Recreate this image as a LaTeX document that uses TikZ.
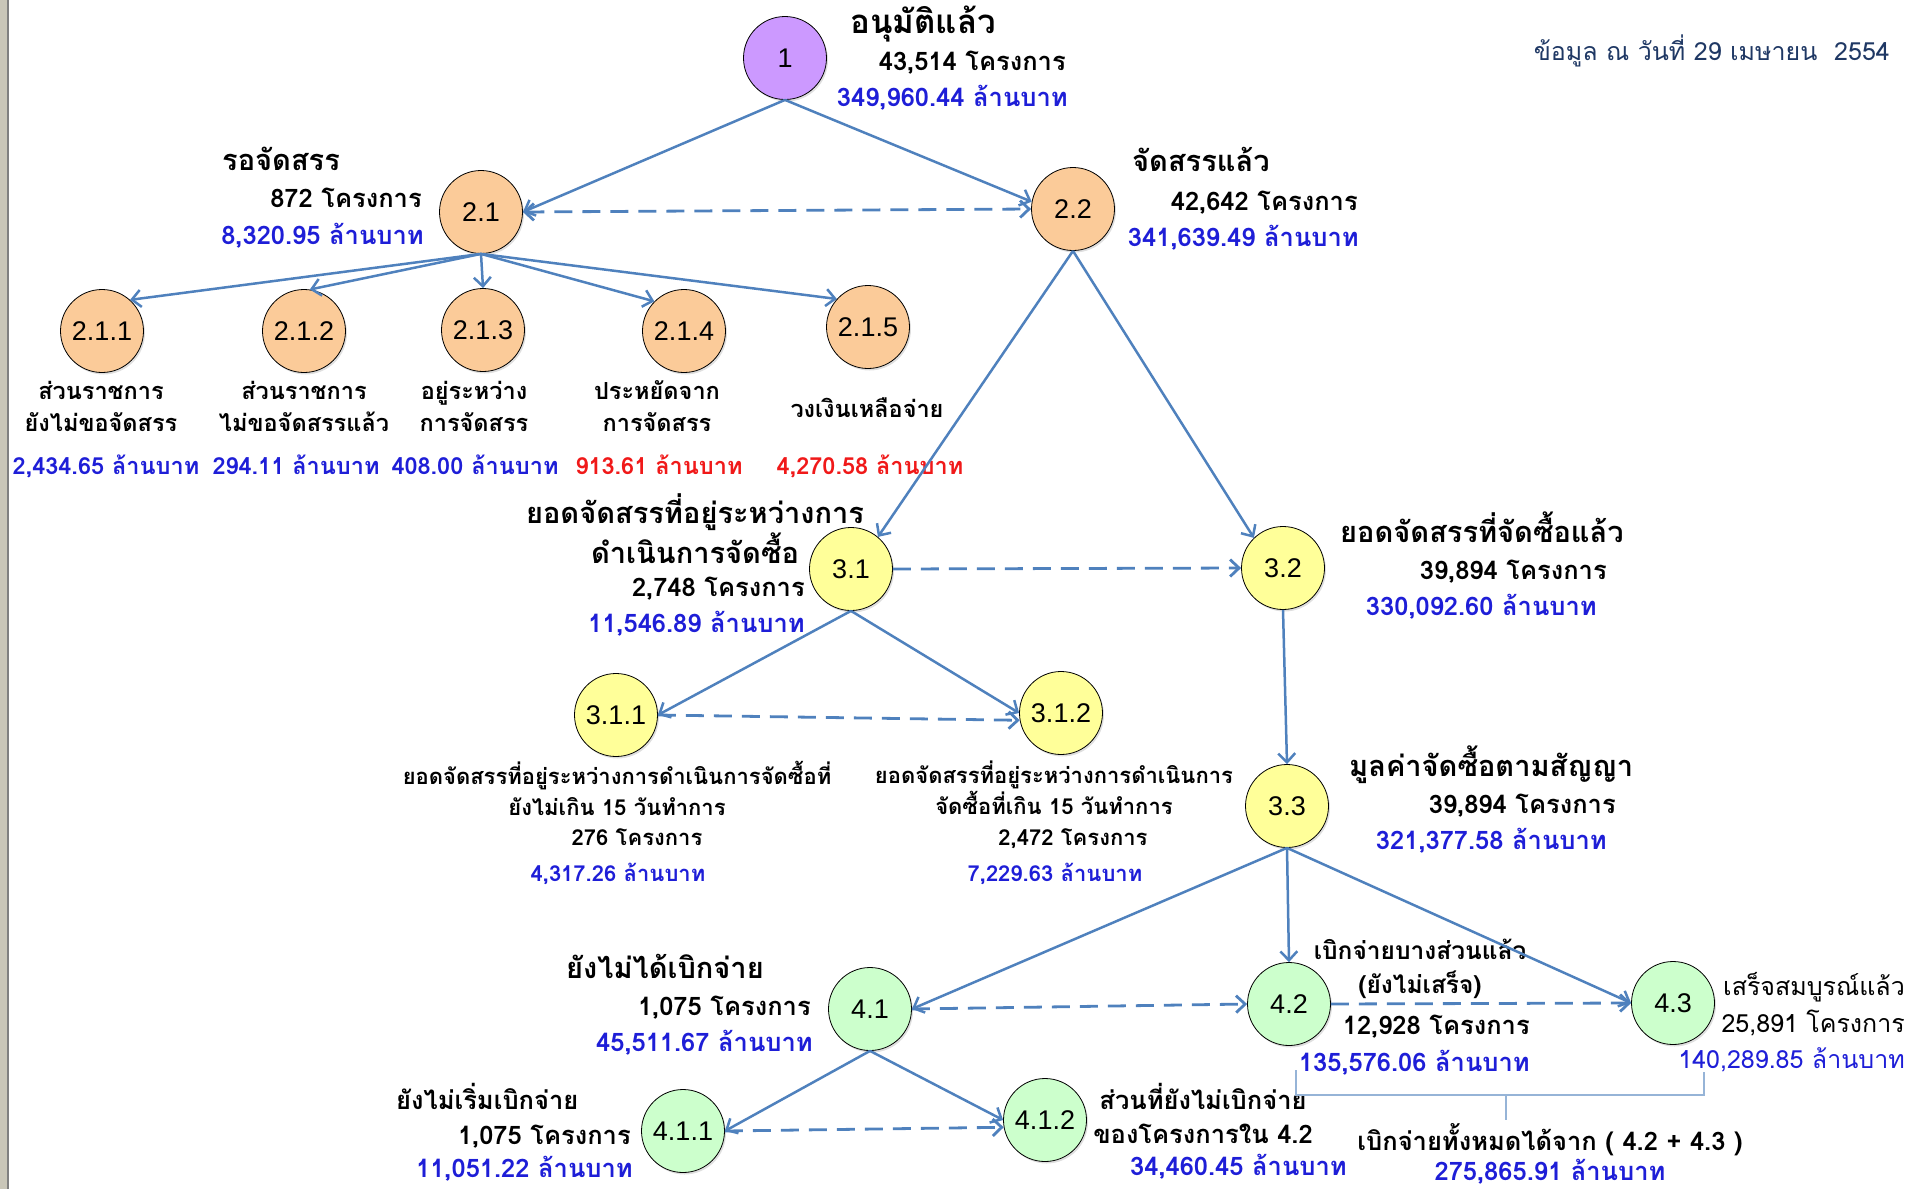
\documentclass[tikz,border=0pt]{standalone}
\usepackage{fontspec}
\setmainfont[Script=Thai]{Loma}
\newfontfamily\numfont{Liberation Sans}
\newfontfamily\datefont[Script=Thai]{Loma}
\usetikzlibrary{arrows.meta}
\usetikzlibrary{shadows}
\definecolor{flowblue}{RGB}{79,129,189}
\definecolor{bracketblue}{RGB}{150,180,215}
\definecolor{amtblue}{RGB}{30,30,215}
\definecolor{amtred}{RGB}{240,25,25}
\definecolor{datenavy}{RGB}{31,56,100}
\definecolor{lilac}{RGB}{204,153,255}
\definecolor{peach}{RGB}{251,203,153}
\definecolor{lemon}{RGB}{255,255,153}
\definecolor{mint}{RGB}{204,255,204}
\definecolor{framegray}{RGB}{201,198,184}
\tikzstyle{bubble}=[circle,draw=black,line width=0.8pt,minimum size=83pt,inner sep=0pt,font=\numfont\fontsize{27}{27}\selectfont,drop shadow={opacity=0.25,shadow xshift=1.5pt,shadow yshift=-2pt}]
\tikzstyle{heading}=[inner sep=0pt,font=\fontsize{29}{40}\selectfont\bfseries,align=center]
\tikzstyle{tally}=[inner sep=0pt,font=\fontsize{25.5}{34}\selectfont\bfseries,align=center]
\tikzstyle{leaf}=[inner sep=0pt,font=\fontsize{23.5}{32}\selectfont\bfseries,align=center]
\tikzstyle{amount}=[tally,text=amtblue]
\tikzstyle{smallnote}=[inner sep=0pt,font=\fontsize{22}{31}\selectfont\bfseries,align=center]
\tikzstyle{lft}=[anchor=mid west,yshift=-7pt]
\tikzstyle{rgt}=[anchor=mid east,yshift=-7pt]
\tikzstyle{ctr}=[anchor=mid,yshift=-7pt]
\tikzstyle{flow}=[draw=flowblue,line width=2.5pt,-{Straight Barb[length=9pt,width=17pt]}]
\tikzstyle{moved}=[flow,line width=2.8pt,dash pattern=on 18pt off 10pt]
\tikzstyle{bracket}=[draw=bracketblue,line width=1.6pt]
\newcommand{\bubble}[4]{% name, position, fill, number
  \node[bubble,fill=#3] (#1) at (#2) {#4};
}

\begin{document}
\begin{tikzpicture}[x=1pt,y=-1pt]
\useasboundingbox (0,0) rectangle (1909,1189);
\fill[framegray] (0,0) rectangle (7,1189);
\draw[gray,line width=1.5pt] (8,0) -- (8,1189);

% circles
\bubble{n1}{785,58}{lilac}{1}
\bubble{n21}{481,212}{peach}{2.1}
\bubble{n22}{1073,209}{peach}{2.2}
\bubble{n211}{102,331}{peach}{2.1.1}
\bubble{n212}{304,331}{peach}{2.1.2}
\bubble{n213}{483,330}{peach}{2.1.3}
\bubble{n214}{684,331}{peach}{2.1.4}
\bubble{n215}{868,327}{peach}{2.1.5}
\bubble{n31}{851,569}{lemon}{3.1}
\bubble{n32}{1283,568}{lemon}{3.2}
\bubble{n311}{616,715}{lemon}{3.1.1}
\bubble{n312}{1061,713}{lemon}{3.1.2}
\bubble{n33}{1287,806}{lemon}{3.3}
\bubble{n41}{870,1009}{mint}{4.1}
\bubble{n42}{1289,1004}{mint}{4.2}
\bubble{n43}{1673,1003}{mint}{4.3}
\bubble{n411}{683,1131}{mint}{4.1.1}
\bubble{n412}{1045,1120}{mint}{4.1.2}

% texts
\node[heading,lft,font=\fontsize{33}{40}\selectfont\bfseries] (t1) at (850,24) {อนุมัติแล้ว};
\node[tally,rgt] (c1) at (1066,61) {43,514 โครงการ};
\node[amount,rgt] (v1) at (1068,97) {349,960.44 ล้านบาท};

\node[heading,lft] (t21) at (222,161) {รอจัดสรร};
\node[tally,rgt] (c21) at (422,198) {872 โครงการ};
\node[amount,rgt] (v21) at (424,235) {8,320.95 ล้านบาท};

\node[heading,lft] (t22) at (1132,162) {จัดสรรแล้ว};
\node[tally,rgt] (c22) at (1358,201) {42,642 โครงการ};
\node[amount,rgt] (v22) at (1359,237) {341,639.49 ล้านบาท};

\node[leaf] (t211) at (101,406) {ส่วนราชการ\\ยังไม่ขอจัดสรร};
\node[leaf,ctr,text=amtblue] (v211) at (106,465) {2,434.65 ล้านบาท};
\node[leaf] (t212) at (304,406) {ส่วนราชการ\\ไม่ขอจัดสรรแล้ว};
\node[leaf,ctr,text=amtblue] (v212) at (296,465) {294.11 ล้านบาท};
\node[leaf] (t213) at (474,406) {อยู่ระหว่าง\\การจัดสรร};
\node[leaf,ctr,text=amtblue] (v213) at (475,465) {408.00 ล้านบาท};
\node[leaf] (t214) at (657,406) {ประหยัดจาก\\การจัดสรร};
\node[leaf,ctr,text=amtred] (v214) at (659,465) {913.61 ล้านบาท};
\node[leaf,ctr] (t215) at (867,408) {วงเงินเหลือจ่าย};
\node[leaf,ctr,text=amtred] (v215) at (870,465) {4,270.58 ล้านบาท};

\node[heading] (t31) at (695,529) {ยอดจัดสรรที่อยู่ระหว่างการ\\ดำเนินการจัดซื้อ};
\node[tally,rgt] (c31) at (805,587) {2,748 โครงการ};
\node[amount,rgt] (v31) at (805,623) {11,546.89 ล้านบาท};

\node[heading,lft] (t32) at (1340,533) {ยอดจัดสรรที่จัดซื้อแล้ว};
\node[tally,rgt] (c32) at (1607,570) {39,894 โครงการ};
\node[amount,rgt] (v32) at (1597,606) {330,092.60 ล้านบาท};

\node[smallnote] (t311) at (617,788) {ยอดจัดสรรที่อยู่ระหว่างการดำเนินการจัดซื้อที่\\ยังไม่เกิน 15 วันทำการ};
\node[smallnote,ctr] (c311) at (637,836) {276 โครงการ};
\node[smallnote,ctr,text=amtblue] (v311) at (618,872) {4,317.26 ล้านบาท};
\node[smallnote] (t312) at (1054,788) {ยอดจัดสรรที่อยู่ระหว่างการดำเนินการ\\จัดซื้อที่เกิน 15 วันทำการ};
\node[smallnote,ctr] (c312) at (1073,836) {2,472 โครงการ};
\node[smallnote,ctr,text=amtblue] (v312) at (1055,872) {7,229.63 ล้านบาท};

\node[heading,lft] (t33) at (1349,767) {มูลค่าจัดซื้อตามสัญญา};
\node[tally,rgt] (c33) at (1616,804) {39,894 โครงการ};
\node[amount,rgt] (v33) at (1607,840) {321,377.58 ล้านบาท};

\node[heading,lft] (t41) at (566,969) {ยังไม่ได้เบิกจ่าย};
\node[tally,rgt] (c41) at (811,1006) {1,075 โครงการ};
\node[amount,rgt] (v41) at (813,1042) {45,511.67 ล้านบาท};

\node[tally,font=\fontsize{24.5}{34}\selectfont\bfseries] (t42) at (1420,969) {เบิกจ่ายบางส่วนแล้ว\\(ยังไม่เสร็จ)};
\node[tally,rgt] (c42) at (1530,1025) {12,928 โครงการ};
\node[amount,rgt] (v42) at (1530,1062) {135,576.06 ล้านบาท};

\node[tally,rgt,font=\fontsize{25}{32}\selectfont] (t43) at (1905,986) {เสร็จสมบูรณ์แล้ว};
\node[tally,rgt,font=\fontsize{25}{32}\selectfont] (c43) at (1905,1023) {25,891 โครงการ};
\node[amount,rgt,font=\fontsize{25}{32}\selectfont] (v43) at (1905,1059) {140,289.85 ล้านบาท};

\node[tally,lft] (t411) at (396,1100) {ยังไม่เริ่มเบิกจ่าย};
\node[tally,rgt] (c411) at (631,1135) {1,075 โครงการ};
\node[amount,rgt] (v411) at (633,1168) {11,051.22 ล้านบาท};

\node[tally] (t412) at (1203,1113) {ส่วนที่ยังไม่เบิกจ่าย\\ของโครงการใน 4.2};
\node[amount,rgt] (v412) at (1347,1166) {34,460.45 ล้านบาท};

\node[tally,ctr] (tb) at (1550,1141) {เบิกจ่ายทั้งหมดได้จาก ( 4.2 + 4.3 )};
\node[amount,ctr] (vb) at (1550,1171) {275,865.91 ล้านบาท};

\node[inner sep=0pt,rgt,text=datenavy,font=\datefont\fontsize{25}{28}\selectfont] (date) at (1890,51) {ข้อมูล ณ วันที่ 29 เมษายน~ 2554};

% arrows
\draw[flow] (n1.south) -- (n21.east);
\draw[flow] (n1.south) -- (n22.170);
\draw[moved,{Straight Barb[length=9pt,width=17pt]}-{Straight Barb[length=9pt,width=17pt]}] (n21.east) -- (n22.west);
\draw[flow] (n21.south) -- (n211.48);
\draw[flow] (n21.south) -- (n212.82);
\draw[flow] (n21.south) -- (n213.north);
\draw[flow] (n21.south) -- (n214.135);
\draw[flow] (n21.south) -- (n215.138);
\draw[flow] (n22.south) -- (n31.50);
\draw[flow] (n22.south) -- (n32.134);
\draw[moved] (n31.east) -- (n32.west);
\draw[flow] (n31.south) -- (n311.east);
\draw[flow] (n31.south) -- (n312.west);
\draw[moved] (n311.east) -- (n312.190);
\draw[flow] (n32.south) -- (n33.north);
\draw[flow] (n33.south) -- (n41.east);
\draw[flow] (n33.south) -- (n42.north);
\draw[flow] (n33.south) -- (n43.west);
\draw[moved] (n41.east) -- (n42.west);
\draw[moved] (n42.east) -- (n43.west);
\draw[flow] (n41.south) -- (n411.east);
\draw[flow] (n41.south) -- (n412.west);
\draw[moved] (n411.east) -- (n412.190);

% sum of 4.2 and 4.3
\coordinate (b1) at (1296,1070);
\coordinate (b2) at (1704,1072);
\coordinate (b3) at (1506,1120);
\draw[bracket] (b1) |- (b2 |- 0,1095) -- (b2);
\draw[bracket] (b3 |- 0,1095) -- (b3);
\end{tikzpicture}
\end{document}
